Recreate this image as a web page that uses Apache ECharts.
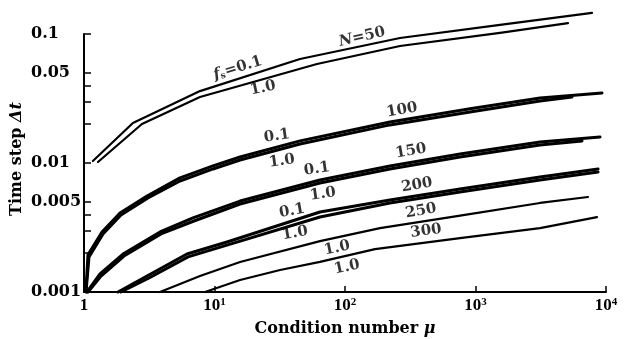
<!DOCTYPE html>
<html><head><meta charset="utf-8">
<script src="https://cdn.jsdelivr.net/npm/echarts@6/dist/echarts.min.js"></script>
<style>html,body{margin:0;padding:0;background:#fff}#chart{width:626px;height:339px}</style>
</head><body><div id="chart"></div>
<script>
// Time step Δt against condition number μ, one curve per N and f_s.
// Each curve: μ values and the matching Δt values.
const mu50a  = [1.17, 2.37, 7.74, 45.2, 264, 1541, 7815];
const dt50a  = [0.01036, 0.0204, 0.0361, 0.0640, 0.0931, 0.1175, 0.1456];
const mu50b  = [1.28, 2.78, 7.74, 61.0, 264, 1541, 5115];
const dt50b  = [0.01018, 0.02005, 0.0325, 0.0585, 0.0807, 0.1019, 0.1216];

const mu100a = [1.036, 1.073, 1.374, 1.888, 3.04, 5.44, 9.74, 15.7, 45.2, 221, 908, 3120, 9317];
const dt100a = [0.00104, 0.00194, 0.00292, 0.00409, 0.00555, 0.00766, 0.00949, 0.01114, 0.01484, 0.0208, 0.0263, 0.0319, 0.0349];
const mu100b = [1.036, 1.092, 1.398, 1.92, 3.09, 5.44, 9.74, 15.7, 45.2, 221, 908, 3120, 5487];
const dt100b = [0.001, 0.00187, 0.00282, 0.00395, 0.00536, 0.00725, 0.00899, 0.01055, 0.01403, 0.01974, 0.02483, 0.0303, 0.0325];

const mu150a = [1.054, 1.326, 1.990, 3.823, 6.84, 15.7, 64.3, 221, 761, 3120, 8995];
const dt150a = [0.001, 0.001379, 0.00197, 0.00292, 0.00375, 0.00507, 0.00738, 0.00949, 0.01175, 0.01455, 0.01591];
const mu150b = [1.073, 1.350, 2.026, 3.89, 6.96, 15.7, 64.3, 221, 761, 3120, 6546];
const dt150b = [0.001, 0.00133, 0.0019, 0.00282, 0.00355, 0.00481, 0.0070, 0.00899, 0.01113, 0.01379, 0.01481];

const mu200a = [1.822, 3.04, 6.15, 12.47, 64.3, 221, 761, 3120, 8690];
const dt200a = [0.001, 0.00133, 0.00197, 0.00244, 0.00417, 0.00516, 0.00628, 0.00779, 0.00899];
const mu200b = [1.92, 3.15, 6.27, 12.47, 64.3, 221, 761, 3120, 8690];
const dt200b = [0.001, 0.001284, 0.00187, 0.00231, 0.00381, 0.0049, 0.00596, 0.00738, 0.00851];

const mu250  = [3.823, 7.74, 15.7, 64.3, 185.5, 721, 3120, 7278];
const dt250  = [0.001, 0.00133, 0.00171, 0.00248, 0.00313, 0.00388, 0.0049, 0.00545];

const mu300  = [8.46, 15.7, 31.8, 64.3, 169.8, 761, 3120, 8531];
const dt300  = [0.001, 0.00124, 0.00148, 0.00171, 0.00215, 0.00262, 0.00313, 0.00381];

// Curve annotations: text, anchor (μ, Δt) and angle
const noteText  = ['{i|f}{sub|s}=0.1', '1.0', '{i|N}=50', '0.1', '1.0', '100', '0.1', '150', '1.0', '0.1', '200', '1.0', '250', '1.0', '300', '1.0'];
const noteMu    = [15.1, 23.5, 135, 30.1, 32.9, 273, 61, 320, 67.8, 39.3, 356, 41.4, 382, 86.9, 418, 103.6];
const noteDt    = [0.0544, 0.0381, 0.0948, 0.0162, 0.01036, 0.02576, 0.00899, 0.01239, 0.00575, 0.00425, 0.00675, 0.00286, 0.00425, 0.00219, 0.00297, 0.00156];
const noteAngle = [17, 12, 13, 8, 8, 10, 8, 10, 8, 10, 10, 10, 10, 12, 8, 12];

// Axis ticks and labels
const xTickExp    = [0, 1, 2, 3, 4];
const xTickLabels = ['1', '10{sup|1}', '10{sup|2}', '10{sup|3}', '10{sup|4}'];
const yTickValues = [0.001, 0.005, 0.01, 0.05, 0.1];
const yTickLabels = ['0.001', '0.005', '0.01', '0.05', '0.1'];
const yMinorTicks = [0.001, 0.002, 0.003, 0.004, 0.005, 0.01, 0.02, 0.03, 0.04, 0.05, 0.1];

const lg = Math.log10;
const pts = (mu, dt) => mu.map((m, i) => [lg(m), lg(dt[i])]);
const SERIF = '"DejaVu Serif", "Liberation Serif", serif';

function curve(mu, dt, w) {
  return {
    type: 'line', data: pts(mu, dt), symbol: 'none', clip: false, silent: true,
    lineStyle: { color: '#000', width: w, join: 'round', cap: 'round' }
  };
}

const notes = noteText.map((t, i) => ({
  value: [lg(noteMu[i]), lg(noteDt[i])],
  label: { formatter: t, rotate: noteAngle[i] }
}));

const chart = echarts.init(document.getElementById('chart'), null, { renderer: 'canvas' });
chart.setOption({
  animation: false,
  backgroundColor: '#fff',
  grid: { left: 84, right: 20, top: 34, bottom: 47, outerBoundsMode: 'none', containLabel: false },
  xAxis: {
    type: 'value', min: 0, max: 4, interval: 1,
    name: 'Condition number {i|μ}', nameLocation: 'middle', nameGap: 29,
    nameTextStyle: {
      fontFamily: SERIF, fontWeight: 'bold', fontSize: 16, color: '#000',
      rich: { i: { fontFamily: SERIF, fontWeight: 'bold', fontStyle: 'italic', fontSize: 16, color: '#000' } }
    },
    axisLine: { lineStyle: { color: '#000', width: 2 } },
    axisTick: { inside: true, length: 6, lineStyle: { color: '#000', width: 1.5 } },
    splitLine: { show: false },
    axisLabel: {
      margin: 5, color: '#000', fontFamily: '"Liberation Serif", serif', fontWeight: 'bold', fontSize: 17,
      formatter: v => xTickLabels[xTickExp.indexOf(Math.round(v))],
      rich: { sup: { fontFamily: '"Liberation Serif", serif', fontWeight: 'bold', fontSize: 11, verticalAlign: 'top', color: '#000', padding: [0, 0, 6, 0] } }
    }
  },
  yAxis: {
    type: 'value', min: -3, max: -1,
    name: 'Time step {i|Δt}', nameLocation: 'middle', nameGap: 59, nameMoveOverlap: false,
    nameTextStyle: {
      fontFamily: SERIF, fontWeight: 'bold', fontSize: 16, color: '#000', padding: [0, 0, 0, 8],
      rich: { i: { fontFamily: SERIF, fontWeight: 'bold', fontStyle: 'italic', fontSize: 16, color: '#000' } }
    },
    axisLine: { show: true, lineStyle: { color: '#000', width: 2 } },
    axisTick: { show: true, inside: true, length: 7, customValues: yMinorTicks.map(lg), lineStyle: { color: '#000', width: 1.5 } },
    splitLine: { show: false },
    axisLabel: {
      customValues: yTickValues.map(lg), align: 'left', margin: 53,
      color: '#000', fontFamily: SERIF, fontWeight: 'bold', fontSize: 16,
      formatter: v => {
        const k = yTickValues.findIndex(t => Math.abs(lg(t) - v) < 1e-6);
        return k < 0 ? '' : yTickLabels[k];
      }
    }
  },
  series: [
    curve(mu50a, dt50a, 2.2), curve(mu50b, dt50b, 2.2),
    curve(mu100a, dt100a, 3), curve(mu100b, dt100b, 3),
    curve(mu150a, dt150a, 3), curve(mu150b, dt150b, 3),
    curve(mu200a, dt200a, 3), curve(mu200b, dt200b, 3),
    curve(mu250, dt250, 2.2), curve(mu300, dt300, 2.2),
    {
      type: 'scatter', data: notes, symbolSize: 0, clip: false, silent: true,
      label: {
        show: true, position: 'inside', color: '#000',
        fontFamily: SERIF, fontWeight: 'bold', fontSize: 15,
        rich: {
          i: { fontFamily: SERIF, fontWeight: 'bold', fontStyle: 'italic', fontSize: 15, color: '#000' },
          sub: { fontFamily: SERIF, fontWeight: 'bold', fontSize: 9, color: '#000', verticalAlign: 'bottom', padding: [6, 0, 0, 0] }
        }
      }
    }
  ]
});
</script></body></html>
